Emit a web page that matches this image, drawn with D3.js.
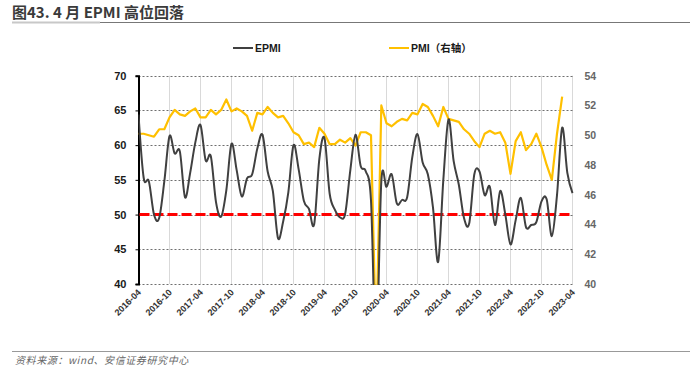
<!DOCTYPE html>
<html>
<head>
<meta charset="utf-8">
<script src="https://cdn.jsdelivr.net/npm/d3@7/dist/d3.min.js"></script>
<style>
  body { margin: 0; background: #fff; }
  svg text { font-family: "Liberation Sans", Arial, sans-serif; }
</style>
</head>
<body>
<script>
// categories: monthly, 2016-04 .. 2023-04
var startMonth = new Date(2016, 3, 1);
var endMonth = new Date(2023, 4, 1);
var months = d3.timeMonth.range(startMonth, endMonth).map(d3.timeFormat("%Y-%m"));

var xTickLabels = ["2016-04", "2016-10", "2017-04", "2017-10", "2018-04", "2018-10", "2019-04",
    "2019-10", "2020-04", "2020-10", "2021-04", "2021-10", "2022-04", "2022-10", "2023-04"];

// EPMI, left axis
var epmi = [
    64.4, 55.3, 54.8, 50.0, 49.5, 54.8, 61.3, 58.8, 59.1,           // 2016-04..12
    52.5, 56.0, 60.4, 62.9, 57.8, 58.4, 51.8, 49.7, 53.5, 60.2, 56.4, 52.6, // 2017
    55.2, 55.8, 59.5, 61.5, 56.2, 53.4, 46.6, 49.0, 53.2, 60.0, 56.5, 52.0, // 2018
    50.8, 48.6, 58.0, 61.0, 53.0, 50.7, 49.6, 50.1, 56.4, 61.5, 57.0, 56.2, // 2019
    52.0, 30.0, 54.8, 54.0, 55.8, 51.6, 52.1, 52.5, 58.3, 61.6, 57.5, 55.8, // 2020
    51.0, 43.2, 55.0, 63.7, 57.7, 54.3, 49.5, 48.7, 55.8, 56.2, 52.8, 54.0, // 2021
    48.5, 53.4, 50.0, 45.7, 49.2, 52.4, 48.2, 48.5, 48.9, 51.9, 52.2, 46.9, // 2022
    52.8, 62.5, 56.0, 53.1                                          // 2023-01..04
];

// manufacturing PMI, right axis
var pmi = [
    50.1, 50.1, 50.0, 49.9, 50.4, 50.4, 51.2, 51.7, 51.4,
    51.3, 51.6, 51.8, 51.2, 51.2, 51.7, 51.4, 51.7, 52.4, 51.6, 51.8, 51.6,
    51.3, 50.3, 51.5, 51.4, 51.9, 51.5, 51.2, 51.3, 50.8, 50.2, 50.0, 49.4,
    49.5, 49.2, 50.5, 50.1, 49.4, 49.4, 49.7, 49.5, 49.8, 49.3, 50.2, 50.2,
    50.0, 35.7, 52.0, 50.8, 50.6, 50.9, 51.1, 51.0, 51.5, 51.4, 52.1, 51.9,
    51.3, 50.6, 51.9, 51.1, 51.0, 50.9, 50.4, 50.1, 49.6, 49.2, 50.1, 50.3,
    50.1, 50.2, 49.5, 47.4, 49.6, 50.2, 49.0, 49.4, 50.1, 49.2, 48.0, 47.0,
    50.1, 52.6
];

var leftTicks = [40, 45, 50, 55, 60, 65, 70];
var rightTicks = [40, 42, 44, 46, 48, 50, 52, 54];
var refLine = 50;

var W = 696, H = 378;
var plot = {left: 138.5, right: 572.5, top: 75.7, bottom: 284};

var svg = d3.select("body").append("svg")
    .attr("width", W)
    .attr("height", H);

var x = d3.scalePoint().domain(months).range([plot.left, plot.right]);
var yL = d3.scaleLinear().domain([40, 70]).range([plot.bottom, plot.top]);
var yR = d3.scaleLinear().domain([40, 54]).range([plot.bottom, plot.top]);

// title
svg.append("text")
    .attr("x", 12).attr("y", 18)
    .style("font-family", "'Noto Sans CJK SC', sans-serif")
    .style("font-size", "15px")
    .style("font-weight", "bold")
    .attr("fill", "#3a3a3a")
    .text("图43. 4 月 EPMI 高位回落");
svg.append("line")
    .attr("x1", 12).attr("x2", 690).attr("y1", 22.5).attr("y2", 22.5)
    .attr("stroke", "#777").attr("stroke-width", 1);
svg.append("line")
    .attr("x1", 12).attr("x2", 100).attr("y1", 22.5).attr("y2", 22.5)
    .attr("stroke", "#c8c8c8").attr("stroke-width", 2);

// footer
svg.append("line")
    .attr("x1", 12).attr("x2", 690).attr("y1", 351.5).attr("y2", 351.5)
    .attr("stroke", "#999").attr("stroke-width", 1.2);
svg.append("text")
    .attr("x", 15).attr("y", 364)
    .style("font-family", "'Noto Sans CJK SC', sans-serif")
    .style("font-size", "10px")
    .style("font-style", "italic")
    .style("letter-spacing", "0.6px")
    .attr("fill", "#666")
    .text("资料来源：wind、安信证券研究中心");

// vertical gridlines
svg.append("g").selectAll("line")
    .data(xTickLabels.slice(1))
    .enter().append("line")
    .attr("x1", function(d) { return x(d); })
    .attr("x2", function(d) { return x(d); })
    .attr("y1", plot.top).attr("y2", plot.bottom)
    .attr("stroke", "#d9d9d9").attr("stroke-width", 1);

// horizontal dotted gridlines
svg.append("g").selectAll("line")
    .data(leftTicks)
    .enter().append("line")
    .attr("x1", plot.left).attr("x2", plot.right + 1)
    .attr("y1", function(d) { return Math.round(yL(d)) + 0.5; })
    .attr("y2", function(d) { return Math.round(yL(d)) + 0.5; })
    .attr("stroke", "#6f6f6f").attr("stroke-width", 1)
    .attr("stroke-dasharray", "2,2");

// left axis
var leftAxis = d3.axisLeft(yL).tickValues(leftTicks).tickSize(3).tickPadding(9);
var gl = svg.append("g").attr("transform", "translate(" + plot.left + ",0)").call(leftAxis);
gl.select(".domain").attr("stroke", "#000").attr("stroke-width", 2);
gl.selectAll(".tick line").attr("stroke", "#000");
gl.selectAll("text")
    .style("font-family", "'Liberation Sans', Arial, sans-serif")
    .style("font-size", "11px").style("font-weight", "bold").attr("fill", "#1a1a1a");

// right axis (labels only)
var rightAxis = d3.axisRight(yR).tickValues(rightTicks).tickSize(0).tickPadding(12);
var gr = svg.append("g").attr("transform", "translate(" + plot.right + ",0)").call(rightAxis);
gr.select(".domain").remove();
gr.selectAll("text")
    .style("font-family", "'Liberation Sans', Arial, sans-serif")
    .style("font-size", "10.5px").style("font-weight", "bold").attr("fill", "#666");

// x labels
svg.append("g").selectAll("text")
    .data(xTickLabels)
    .enter().append("text")
    .attr("transform", function(d) { return "translate(" + (x(d) + 3) + ",293) rotate(-45)"; })
    .attr("text-anchor", "end")
    .style("font-size", "9px")
    .style("font-weight", "bold")
    .attr("fill", "#333")
    .text(function(d) { return d; });

// clip for series
svg.append("clipPath").attr("id", "plotClip")
    .append("rect")
    .attr("x", plot.left).attr("y", plot.top - 5)
    .attr("width", plot.right - plot.left + 6).attr("height", plot.bottom - plot.top + 6);

// 50 reference line
svg.append("line")
    .attr("x1", plot.left + 1).attr("x2", plot.right)
    .attr("y1", yL(refLine)).attr("y2", yL(refLine))
    .attr("stroke", "#ff0000").attr("stroke-width", 3)
    .attr("stroke-dasharray", "10,4");

var series = svg.append("g").attr("clip-path", "url(#plotClip)");

var pmiLine = d3.line()
    .x(function(d, i) { return x(months[i]); })
    .y(function(d) { return yR(d); });
series.append("path")
    .datum(pmi)
    .attr("d", pmiLine)
    .attr("fill", "none")
    .attr("stroke", "#ffc000")
    .attr("stroke-width", 2.2)
    .attr("stroke-linejoin", "round");

var epmiLine = d3.line()
    .x(function(d, i) { return x(months[i]); })
    .y(function(d) { return yL(d); })
    .curve(d3.curveCardinal);
series.append("path")
    .datum(epmi)
    .attr("d", epmiLine)
    .attr("fill", "none")
    .attr("stroke", "#404040")
    .attr("stroke-width", 2);

// legend
var legend = [
    {name: "EPMI", color: "#404040", x: 233},
    {name: "PMI（右轴）", color: "#ffc000", x: 389}
];
var lg = svg.append("g").selectAll("g")
    .data(legend)
    .enter().append("g")
    .attr("transform", function(d) { return "translate(" + d.x + ",48)"; });
lg.append("line")
    .attr("x1", 0).attr("x2", 20)
    .attr("stroke", function(d) { return d.color; })
    .attr("stroke-width", 2);
lg.append("text")
    .attr("x", 22).attr("y", 4)
    .style("font-family", "'Liberation Sans', 'Noto Sans CJK SC', sans-serif")
    .style("font-size", "10.5px").style("font-weight", "bold")
    .attr("fill", "#1a1a1a")
    .text(function(d) { return d.name; });
</script>
</body>
</html>
